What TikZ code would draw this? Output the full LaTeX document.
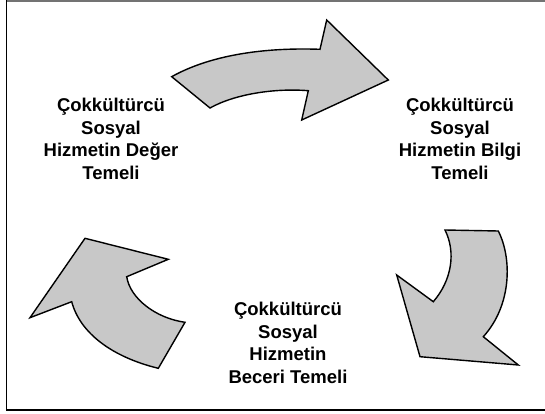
\documentclass[tikz,border=0pt]{standalone}
\usepackage{fontspec}
\setmainfont{Liberation Sans}
\definecolor{arrowgray}{RGB}{200,200,200}
\tikzset{
  bigarrow/.style={draw=black, line width=1.4pt, fill=arrowgray, line join=miter},
  label/.style={align=center, font=\bfseries\fontsize{18.5}{22.5}\selectfont, inner sep=0pt}
}
\begin{document}
\begin{tikzpicture}[x=1pt,y=-1pt]
\useasboundingbox (0,0) rectangle (545,414);
% frame
\draw[line width=1.3pt, black!55] (545,1) -- (6.5,1);
\draw[line width=1.3pt] (6.5,0.5) -- (6.5,410) -- (545,410);
% top arrow
\draw[bigarrow] (171.7,76.7) .. controls (205,58) and (255,47) .. (320,49.3)
  -- (326.7,20) -- (388.3,80) -- (301.7,120) -- (308.3,90.7)
  .. controls (275,88) and (235,94) .. (210,108) -- cycle;
% right arrow
\draw[bigarrow] (445,230) -- (498.3,231)
  .. controls (512,258) and (512,305) .. (483.3,336.7)
  -- (518.3,365) -- (420,356.7) -- (396.7,275) -- (433.3,301.7)
  .. controls (452,280) and (456,252) .. cycle;
% bottom-left arrow
\draw[bigarrow] (85,238.3) -- (168.3,259.3) -- (126.7,276.7)
  .. controls (130,298) and (155,318) .. (185,322.3)
  -- (158.3,368.3)
  .. controls (112,357) and (80,333) .. (71.7,301.7)
  -- (30,317.7) -- cycle;
% labels
\node[label] (deger) at (111,139) {Çokkültürcü\\Sosyal\\Hizmetin Değer\\Temeli};
\node[label] (bilgi) at (460,139) {Çokkültürcü\\Sosyal\\Hizmetin Bilgi\\Temeli};
\node[label] (beceri) at (288,343) {Çokkültürcü\\Sosyal\\Hizmetin\\Beceri Temeli};
\end{tikzpicture}
\end{document}
